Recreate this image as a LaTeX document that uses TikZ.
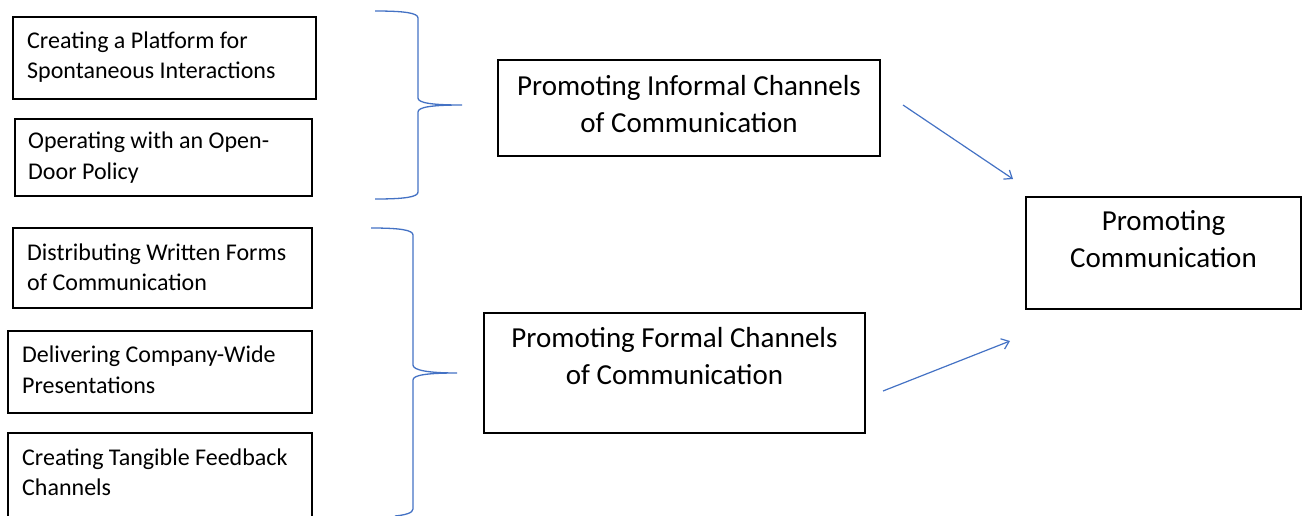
\documentclass[tikz,border=0pt]{standalone}
\usepackage{fontspec}
\setmainfont{Carlito}
\usetikzlibrary{arrows.meta}
\definecolor{linkblue}{HTML}{4472C4}
\tikzset{
  box/.style={draw=black, line width=1.7pt, fill=white, inner sep=0pt},
  smalltext/.style={font=\fontsize{24}{30.5}\selectfont, align=left, anchor=west, inner sep=0pt},
  bigtext/.style={font=\fontsize{29}{36.5}\selectfont, align=center, inner sep=0pt},
  brace/.style={draw=linkblue, line width=1.3pt},
  link/.style={draw=linkblue, line width=1.2pt, -{Straight Barb[length=7pt,width=11pt,line width=1.2pt]}}
}
\begin{document}
\begin{tikzpicture}[x=1pt,y=-1pt]
\useasboundingbox (0,0) rectangle (1302,515);
\clip (0,0) rectangle (1302,515);

% left column: individual practices
\node[box, minimum width=303pt, minimum height=82pt] (p1) at (164.5,58) {};
\node[smalltext] (p1t) at (27,57) {Creating a Platform for\\Spontaneous Interactions};

\node[box, minimum width=297pt, minimum height=77pt] (p2) at (163.5,157.5) {};
\begin{scope}
  \clip (14,119) rectangle (312,182);
  \node[smalltext] (p2t) at (28,157.5) {Operating with an Open-\\Door Policy};
\end{scope}

\node[box, minimum width=299pt, minimum height=80pt] (p3) at (162.5,268) {};
\node[smalltext] (p3t) at (27,267) {Distributing Written Forms\\of Communication};

\node[box, minimum width=304pt, minimum height=82pt] (p4) at (160,372) {};
\node[smalltext] (p4t) at (22,369.5) {Delivering Company-Wide\\Presentations};

\node[box, minimum width=304pt, minimum height=100pt] (p5) at (160,483) {};
\node[smalltext] (p5t) at (22,472) {Creating Tangible Feedback\\Channels};

% grouping braces
\draw[brace] (375,11) .. controls (405,11) and (418,13) .. (418,18)
  -- (418,98) .. controls (418,103) and (432,105) .. (462,105)
  .. controls (432,105) and (418,107) .. (418,112)
  -- (418,192) .. controls (418,197) and (405,199) .. (375,199);
\draw[brace] (371,228) .. controls (400,228) and (413,230) .. (413,235)
  -- (413,365) .. controls (413,370) and (427,373) .. (457,373)
  .. controls (427,373) and (413,375) .. (413,380)
  -- (413,509) .. controls (413,513) and (405,515) .. (395,516);

% channel boxes
\node[box, minimum width=382pt, minimum height=96pt] (inf) at (689,108) {};
\node[bigtext] (inft) at (689,104) {Promoting Informal Channels\\of Communication};

\node[box, minimum width=381pt, minimum height=120pt] (frm) at (674.5,373) {};
\node[bigtext] (frmt) at (674.5,356) {Promoting Formal Channels\\of Communication};

\node[box, minimum width=275pt, minimum height=112pt] (com) at (1163.5,253) {};
\node[bigtext] (comt) at (1163.5,239) {Promoting\\Communication};

% arrows towards the overall goal
\coordinate (a1s) at (903,105);
\coordinate (a1e) at (1013,179);
\coordinate (a2s) at (883,391);
\coordinate (a2e) at (1010,341);
\draw[link] (a1s) -- (a1e);
\draw[link] (a2s) -- (a2e);
\end{tikzpicture}
\end{document}
